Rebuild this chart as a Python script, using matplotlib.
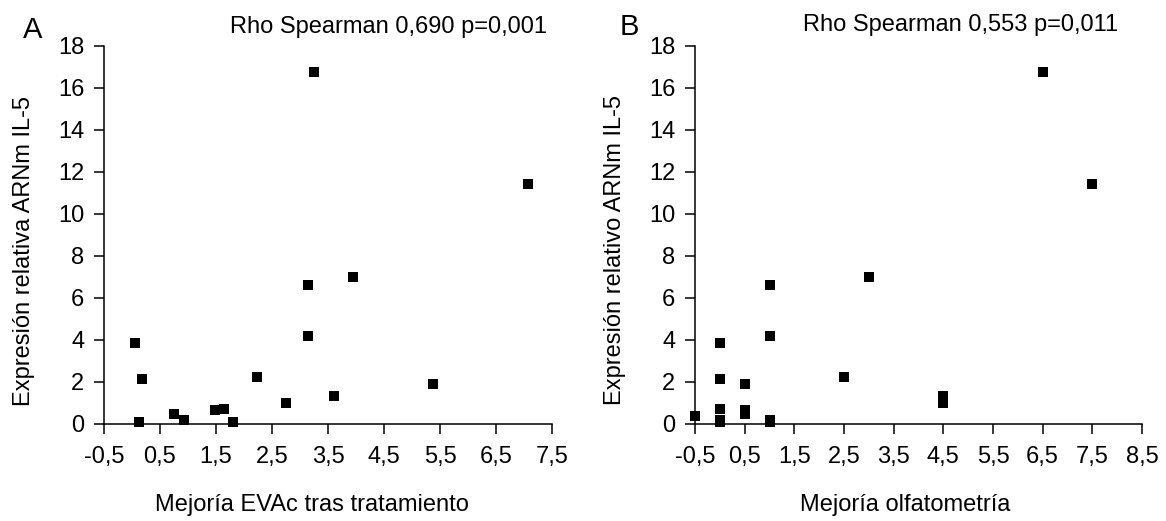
import matplotlib
matplotlib.use("Agg")
import matplotlib.pyplot as plt

plt.rcParams['font.family'] = ['Liberation Sans', 'DejaVu Sans']

# Panel A: mejoria EVAc vs expresion IL-5
evac_x = [0.05, 0.18, 0.13, 0.75, 0.93, 1.49, 1.65, 1.80, 2.23, 2.75,
          3.14, 3.15, 3.60, 3.95, 5.37, 3.25, 7.08]
evac_y = [3.84, 2.12, 0.06, 0.45, 0.18, 0.64, 0.67, 0.06, 2.23, 0.97,
          6.58, 4.19, 1.32, 6.96, 1.89, 16.74, 11.39]

# Panel B: mejoria olfatometria vs expresion IL-5
olf_x = [-0.5, 0.0, 0.0, 0.0, 0.0, 0.0, 0.5, 0.5, 0.5, 1.0,
         1.0, 1.0, 1.0, 2.5, 3.0, 4.5, 4.5, 6.5, 7.5]
olf_y = [0.37, 3.84, 2.12, 0.67, 0.06, 0.18, 1.89, 0.64, 0.45, 6.58,
         4.19, 0.06, 0.17, 2.23, 6.96, 1.32, 0.97, 16.74, 11.39]

y_ticks = list(range(0, 19, 2))
xticks_a = [-0.5, 0.5, 1.5, 2.5, 3.5, 4.5, 5.5, 6.5, 7.5]
xticks_b = [-0.5, 0.5, 1.5, 2.5, 3.5, 4.5, 5.5, 6.5, 7.5, 8.5]

W, H = 1166, 521
fig = plt.figure(figsize=(W / 100, H / 100), dpi=100)
ax_a = fig.add_axes([104 / W, 1 - 423.5 / H, 448 / W, 377.8 / H])
ax_b = fig.add_axes([695 / W, 1 - 423.5 / H, 447 / W, 377.8 / H])

fs = 17


def style(ax, xs, ys, xticks):
    ax.scatter(xs, ys, marker='s', s=44, color='black', linewidths=0,
               clip_on=False, zorder=3)
    ax.set_xlim(xticks[0], xticks[-1])
    ax.set_ylim(0, 18)
    ax.set_xticks(xticks)
    ax.set_xticklabels([f"{t:g}".replace('.', ',') for t in xticks], fontsize=fs)
    ax.set_yticks(y_ticks)
    ax.set_yticklabels([str(t) for t in y_ticks], fontsize=fs)
    for s in ['top', 'right']:
        ax.spines[s].set_visible(False)
    for s in ['left', 'bottom']:
        ax.spines[s].set_linewidth(1.1)
    ax.tick_params(axis='both', direction='out', length=7.2, width=1.1)
    ax.tick_params(axis='y', pad=7)
    ax.tick_params(axis='x', pad=9)


style(ax_a, evac_x, evac_y, xticks_a)
style(ax_b, olf_x, olf_y, xticks_b)

# axis titles
fig.text(24 / W, 1 - 251 / H, "Expresión relativa ARNm IL-5", fontsize=fs,
         rotation=90, ha='center', va='center')
fig.text(615 / W, 1 - 250 / H, "Expresión relativo ARNm IL-5", fontsize=fs,
         rotation=90, ha='center', va='center')
fig.text(312 / W, 1 - 505 / H, "Mejoría EVAc tras tratamiento", fontsize=fs,
         ha='center', va='center')
fig.text(905 / W, 1 - 505 / H, "Mejoría olfatometría", fontsize=fs,
         ha='center', va='center')

# panel letters and correlation notes
fig.text(33 / W, 1 - 38 / H, "A", fontsize=21, ha='center', va='baseline')
fig.text(629 / W, 1 - 35 / H, "B", fontsize=21, ha='center', va='baseline')
fig.text(389 / W, 1 - 33 / H, "Rho Spearman 0,690 p=0,001", fontsize=fs,
         ha='center', va='baseline')
fig.text(961 / W, 1 - 31 / H, "Rho Spearman 0,553 p=0,011", fontsize=fs,
         ha='center', va='baseline')

fig.savefig("out.png", dpi=100)
